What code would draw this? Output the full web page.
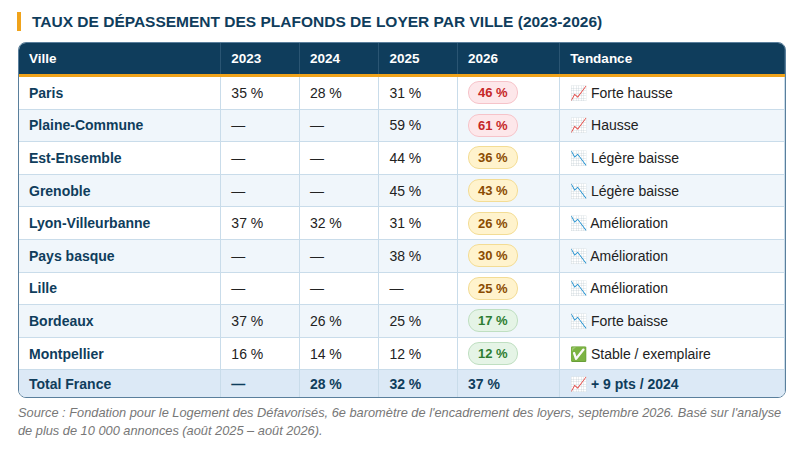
<!DOCTYPE html>
<html><head><meta charset="utf-8">
<script src="https://cdn.jsdelivr.net/npm/chart.js@4.4.0/dist/chart.umd.min.js"></script>
<style>
body{margin:0;width:800px;height:453px;background:#fff;font-family:"Liberation Sans",Arial,sans-serif;overflow:hidden}
h1{position:absolute;left:17px;top:12px;margin:0;padding-left:11px;border-left:4px solid #f0a31b;font-size:15.5px;line-height:19px;color:#0f3d5c;font-weight:bold;letter-spacing:0}
.wrap{position:absolute;left:18px;top:42px;width:766px;border:1.5px solid #5a7f9c;border-radius:8px;overflow:hidden}
table{border-collapse:collapse;width:100%;font-size:14px}
th{background:#0f3d5c;color:#fff;text-align:left;padding:0 10px;height:31px;border-bottom:3px solid #f0a31b;border-right:1px solid #2a5573;font-size:13.5px}
td{padding:0 10px;height:31.6px;border-bottom:1px solid #c9dcea;border-right:1px solid #c9dcea;color:#222;background:#fff}
td:first-child{font-weight:bold;color:#0f3d5c}
tr:nth-child(odd) td{background:#f0f6fb}
tr.total td{background:#dce9f6;font-weight:bold;color:#0f3d5c;height:27px;border-bottom:none}
.pill{display:inline-block;font-weight:bold;font-size:13px;padding:3px 9px;border-radius:11px;border:1px solid}
.red{background:#fde7ea;color:#c62828;border-color:#f6c3c9}
.amb{background:#fff3cd;color:#8a4b00;border-color:#f3dc94}
.grn{background:#e5f4e6;color:#2e7d32;border-color:#bfdfc1}
.src{position:absolute;left:18px;top:404px;width:770px;font-size:12.8px;line-height:18px;color:#777;font-style:italic}
</style></head><body>
<h1>TAUX DE DÉPASSEMENT DES PLAFONDS DE LOYER PAR VILLE (2023-2026)</h1>
<div class="wrap"><table id="t"></table></div>
<div class="src">Source : Fondation pour le Logement des Défavorisés, 6e baromètre de l'encadrement des loyers, septembre 2026. Basé sur l'analyse de plus de 10 000 annonces (août 2025 – août 2026).</div>
<script>
const headers = ['Ville','2023','2024','2025','2026','Tendance'];
const villes = ['Paris','Plaine-Commune','Est-Ensemble','Grenoble','Lyon-Villeurbanne','Pays basque','Lille','Bordeaux','Montpellier'];
const v2023 = [35,null,null,null,37,null,null,37,16];
const v2024 = [28,null,null,null,32,null,null,26,14];
const v2025 = [31,59,44,45,31,38,null,25,12];
const v2026 = [46,61,36,43,26,30,25,17,12];
const tendances = ['📈 Forte hausse','📈 Hausse','📉 Légère baisse','📉 Légère baisse','📉 Amélioration','📉 Amélioration','📉 Amélioration','📉 Forte baisse','✅ Stable / exemplaire'];
const total = ['Total France',null,28,32,37,'📈 + 9 pts / 2024'];
const colW = [203,78,79,78,102,226];

const fmt = v => v == null ? '—' : v + ' %';
const cls = v => v >= 45 ? 'red' : v >= 20 ? 'amb' : 'grn';
let html = '<tr>' + headers.map((h,i)=>`<th style="width:${colW[i]-20}px">${h}</th>`).join('') + '</tr>';
villes.forEach((v,i) => {
  html += `<tr><td>${v}</td><td>${fmt(v2023[i])}</td><td>${fmt(v2024[i])}</td><td>${fmt(v2025[i])}</td>
    <td><span class="pill ${cls(v2026[i])}">${fmt(v2026[i])}</span></td><td>${tendances[i]}</td></tr>`;
});
html += `<tr class="total"><td>${total[0]}</td><td>${fmt(total[1])}</td><td>${fmt(total[2])}</td><td>${fmt(total[3])}</td><td>${fmt(total[4])}</td><td>${total[5]}</td></tr>`;
document.getElementById('t').innerHTML = html;
</script>
</body></html>
